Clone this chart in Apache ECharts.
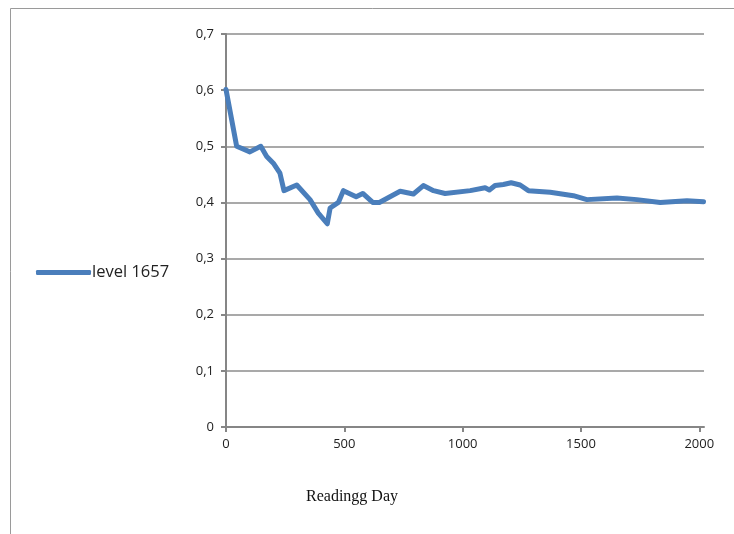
<!DOCTYPE html>
<html>
<head>
<meta charset="utf-8">
<script src="https://cdn.jsdelivr.net/npm/echarts@6/dist/echarts.min.js"></script>
<style>html,body{margin:0;padding:0;background:#fff}#c{width:734px;height:534px}</style>
</head>
<body>
<div id="c"></div>
<script>
const seriesName = 'level 1657';
const days = [0, 45, 101, 147, 172, 200, 228, 245, 299, 355, 390, 428, 440, 475, 496, 550, 578, 620, 648, 736, 792, 834, 877, 926, 1032, 1095, 1113, 1137, 1172, 1205, 1243, 1278, 1370, 1468, 1525, 1652, 1736, 1835, 1948, 2018];
const levels = [0.601, 0.50, 0.49, 0.50, 0.482, 0.47, 0.452, 0.421, 0.431, 0.405, 0.381, 0.362, 0.39, 0.40, 0.421, 0.41, 0.416, 0.40, 0.40, 0.42, 0.415, 0.43, 0.421, 0.416, 0.421, 0.426, 0.422, 0.43, 0.432, 0.435, 0.431, 0.421, 0.418, 0.412, 0.405, 0.408, 0.405, 0.40, 0.403, 0.401];
const xTicks = [0, 500, 1000, 1500, 2000];
const yTicks = [0, 0.1, 0.2, 0.3, 0.4, 0.5, 0.6, 0.7];
const xTitle = 'Readingg Day';

const chart = echarts.init(document.getElementById('c'), null, {renderer: 'canvas'});
const pts = days.map((d, i) => [d, levels[i]]);
chart.setOption({
  animation: false,
  grid: {left: 226, right: 30, top: 34, bottom: 107, containLabel: false},
  legend: {
    left: 31, top: 259, orient: 'vertical',
    icon: 'roundRect', itemWidth: 55, itemHeight: 5, itemGap: 4,
    textStyle: {fontFamily: 'Open Sans', fontSize: 16.5, color: '#222', padding: [0, 0, 0, -4]},
    data: [seriesName]
  },
  xAxis: {
    type: 'value', min: 0, max: 2020,
    axisLine: {lineStyle: {color: '#868686', width: 2}},
    axisTick: {show: true, length: 5, lineStyle: {color: '#868686', width: 2}, customValues: xTicks},
    axisLabel: {customValues: xTicks, fontFamily: 'Open Sans', fontSize: 13, color: '#222', margin: 11,
      formatter: v => String(Math.round(v))},
    splitLine: {show: false}
  },
  yAxis: {
    type: 'value', min: 0, max: 0.7, interval: 0.1,
    axisLine: {show: true, lineStyle: {color: '#868686', width: 2}},
    axisTick: {show: true, length: 5, lineStyle: {color: '#868686', width: 2}},
    axisLabel: {fontFamily: 'Open Sans', fontSize: 13, color: '#222', margin: 12,
      formatter: v => { const r = Math.round(v * 10) / 10; return r === 0 ? '0' : r.toFixed(1).replace('.', ','); }},
    splitLine: {show: true, lineStyle: {color: '#8c8c8c', width: 1.5}}
  },
  graphic: [
    {type: 'polyline', silent: true, shape: {points: [[10.5, 534], [10.5, 8.5], [734, 8.5]]}, style: {stroke: '#9a9a9a', lineWidth: 1, fill: null}},
    {type: 'text', left: 306, top: 489, style: {text: xTitle, font: '16px "Liberation Serif"', fill: '#111'}}
  ],
  series: [{
    name: seriesName, type: 'line', data: pts, showSymbol: false, symbol: 'none',
    lineStyle: {color: '#4A7EBB', width: 5, join: 'round', cap: 'round'},
    itemStyle: {color: '#4A7EBB'}
  }]
});
</script>
</body>
</html>
